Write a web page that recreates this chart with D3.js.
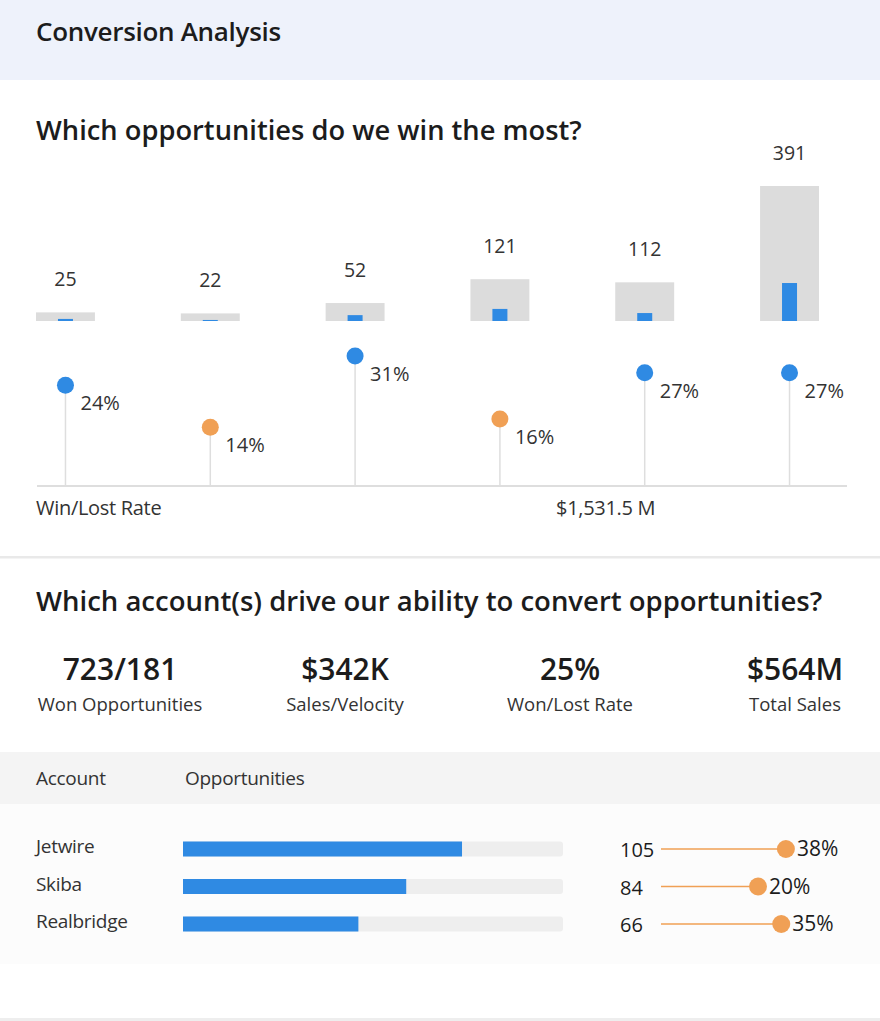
<!DOCTYPE html>
<html>
<head>
<meta charset="utf-8">
<script src="https://cdn.jsdelivr.net/npm/d3@7"></script>
<style>
  body { margin: 0; background: #fff; }
  svg { display: block; font-family: "Open Sans", Lato, sans-serif; }
</style>
</head>
<body>
<div id="viz"></div>
<script>
// ---- data ----
const oppIds = ["o1", "o2", "o3", "o4", "o5", "o6"];
const oppTotal = [25, 22, 52, 121, 112, 391];
const oppWon = [6, 3, 17, 35, 23, 110];
const winRate = [24, 14, 31, 16, 27, 27];

const kpiValues = ["723/181", "$342K", "25%", "$564M"];
const kpiLabels = ["Won Opportunities", "Sales/Velocity", "Won/Lost Rate", "Total Sales"];

const accounts = ["Jetwire", "Skiba", "Realbridge"];
const accountOpps = [105, 84, 66];
const accountRate = [38, 20, 35];

let w = 880;
let h = 1021;

const blue = "#2f8ae3";
const orange = "#f0a055";
const ink = "#1c1c1c";
const grey = "#333";

let svg = d3.select("#viz")
  .append("svg")
    .attr("width", w)
    .attr("height", h)
    .attr("viewBox", "0 0 " + w + " " + h);

// header band
svg.append("rect").attr("x", 0).attr("y", 0).attr("width", w).attr("height", 80).attr("fill", "#eef2fb");
svg.append("text")
  .text("Conversion Analysis")
  .attr("x", 36).attr("y", 41)
  .attr("font-size", 26).attr("font-weight", 600)
  .attr("letter-spacing", -0.3)
  .attr("fill", ink);

svg.append("text")
  .text("Which opportunities do we win the most?")
  .attr("x", 36).attr("y", 140)
  .attr("font-size", 27.3).attr("font-weight", 600)
  .attr("fill", ink);

// ---- bars: total vs won ----
const opps = oppIds.map((id, i) => ({id: id, total: oppTotal[i], won: oppWon[i], rate: winRate[i]}));

const x = d3.scaleBand()
  .domain(oppIds)
  .range([36, 819])
  .paddingInner(0.593)
  .paddingOuter(0);

const yBar = d3.scaleLinear().domain([0, 391]).range([321, 186]);

let bars = svg.append("g").attr("class", "bars");

bars.selectAll("rect.total")
  .data(opps)
  .join("rect")
    .attr("class", "total")
    .attr("x", d => x(d.id))
    .attr("y", d => yBar(d.total))
    .attr("width", x.bandwidth())
    .attr("height", d => yBar(0) - yBar(d.total))
    .attr("fill", "#dcdcdc");

bars.selectAll("rect.won")
  .data(opps)
  .join("rect")
    .attr("class", "won")
    .attr("x", d => x(d.id) + x.bandwidth() / 2 - 7.5)
    .attr("y", d => yBar(d.won))
    .attr("width", 15)
    .attr("height", d => yBar(0) - yBar(d.won))
    .attr("fill", blue);

bars.selectAll("text")
  .data(opps)
  .join("text")
    .text(d => d.total)
    .attr("x", d => x(d.id) + x.bandwidth() / 2)
    .attr("y", d => yBar(d.total) - 26)
    .attr("text-anchor", "middle")
    .attr("font-size", 19.5)
    .attr("fill", grey);

// ---- lollipops: win/lost rate ----
const yRate = d3.scaleLinear().domain([0, 31]).range([486, 356]);

let pops = svg.append("g").attr("class", "pops");

pops.selectAll("line")
  .data(opps)
  .join("line")
    .attr("x1", d => x(d.id) + x.bandwidth() / 2)
    .attr("x2", d => x(d.id) + x.bandwidth() / 2)
    .attr("y1", yRate(0))
    .attr("y2", d => yRate(d.rate))
    .attr("stroke", "#dedede")
    .attr("stroke-width", 1.5);

pops.append("line")
  .attr("x1", 37).attr("x2", 847)
  .attr("y1", yRate(0)).attr("y2", yRate(0))
  .attr("stroke", "#dedede")
  .attr("stroke-width", 2);

pops.selectAll("circle")
  .data(opps)
  .join("circle")
    .attr("cx", d => x(d.id) + x.bandwidth() / 2)
    .attr("cy", d => yRate(d.rate))
    .attr("r", 8.5)
    .attr("fill", d => d.rate < 20 ? orange : blue);

pops.selectAll("text")
  .data(opps)
  .join("text")
    .text(d => d.rate + "%")
    .attr("x", d => x(d.id) + x.bandwidth() / 2 + 15)
    .attr("y", d => yRate(d.rate) + 25)
    .attr("font-size", 20)
    .attr("fill", grey);

svg.append("text")
  .text("Win/Lost Rate")
  .attr("x", 36).attr("y", 515)
  .attr("font-size", 20).attr("letter-spacing", -0.3).attr("fill", grey);
svg.append("text")
  .text("$1,531.5 M")
  .attr("x", 556).attr("y", 515)
  .attr("font-size", 20).attr("letter-spacing", -0.3).attr("fill", grey);

// divider
svg.append("rect").attr("x", 0).attr("y", 556).attr("width", w).attr("height", 2.5).attr("fill", "#e9e9e9");

svg.append("text")
  .text("Which account(s) drive our ability to convert opportunities?")
  .attr("x", 36).attr("y", 611)
  .attr("font-size", 27.5).attr("font-weight", 600)
  .attr("fill", ink);

// ---- KPIs ----
const kx = d3.scalePoint().domain(kpiLabels).range([120, 795]);

let kpis = svg.append("g").selectAll("g")
  .data(kpiLabels.map((l, i) => ({label: l, value: kpiValues[i]})))
  .join("g")
    .attr("transform", d => "translate(" + kx(d.label) + ",0)");

kpis.append("text")
  .text(d => d.value)
  .attr("y", 680)
  .attr("text-anchor", "middle")
  .attr("font-size", 30).attr("font-weight", 600)
  .attr("fill", ink);
kpis.append("text")
  .text(d => d.label)
  .attr("y", 711)
  .attr("text-anchor", "middle")
  .attr("font-size", 18.5)
  .attr("fill", grey);

// ---- account table ----
svg.append("rect").attr("x", 0).attr("y", 752).attr("width", w).attr("height", 52).attr("fill", "#f4f4f4");
svg.append("rect").attr("x", 0).attr("y", 804).attr("width", w).attr("height", 160).attr("fill", "#fcfcfc");
svg.append("rect").attr("x", 0).attr("y", 1018).attr("width", w).attr("height", 3).attr("fill", "#eeeeee");

svg.append("text").text("Account").attr("x", 36).attr("y", 785).attr("font-size", 19).attr("letter-spacing", -0.3).attr("fill", grey);
svg.append("text").text("Opportunities").attr("x", 185).attr("y", 785).attr("font-size", 19).attr("letter-spacing", -0.3).attr("fill", grey);

const rows = accounts.map((a, i) => ({name: a, opps: accountOpps[i], rate: accountRate[i]}));
const yRow = d3.scalePoint().domain(accounts).range([849, 924]);
const xOpp = d3.scaleLinear().domain([0, 143]).range([183, 563]);
const xPct = d3.scaleLinear().domain([0, 40]).range([727, 789]);

let row = svg.append("g").selectAll("g")
  .data(rows)
  .join("g")
    .attr("transform", d => "translate(0," + yRow(d.name) + ")");

row.append("text")
  .text(d => d.name)
  .attr("x", 36).attr("y", 4)
  .attr("font-size", 19).attr("letter-spacing", -0.3).attr("fill", grey);

row.append("rect")
  .attr("x", xOpp(0)).attr("y", -7.5)
  .attr("width", xOpp(143) - xOpp(0)).attr("height", 15)
  .attr("rx", 3)
  .attr("fill", "#eeeeee");

row.append("rect")
  .attr("x", xOpp(0)).attr("y", -7.5)
  .attr("width", d => xOpp(d.opps) - xOpp(0)).attr("height", 15)
  .attr("fill", blue);

row.append("text")
  .text(d => d.opps)
  .attr("x", 620).attr("y", 8)
  .attr("font-size", 20).attr("font-weight", 500)
  .attr("fill", ink);

row.append("line")
  .attr("x1", 661).attr("x2", d => xPct(d.rate))
  .attr("y1", 0).attr("y2", 0)
  .attr("stroke", orange).attr("stroke-width", 1.5);

row.append("circle")
  .attr("cx", d => xPct(d.rate)).attr("cy", 0)
  .attr("r", 9)
  .attr("fill", orange);

row.append("text")
  .text(d => d.rate + "%")
  .attr("x", d => xPct(d.rate) + 11).attr("y", 7)
  .attr("font-size", 21).attr("font-weight", 500)
  .attr("fill", ink);
</script>
</body>
</html>
